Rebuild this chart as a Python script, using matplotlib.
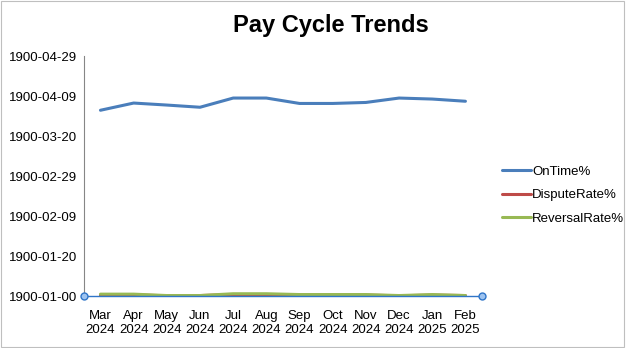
import datetime
import matplotlib
matplotlib.use("Agg")
import matplotlib.pyplot as plt
from matplotlib.ticker import FuncFormatter

plt.rcParams['font.family'] = ['Liberation Sans', 'DejaVu Sans']

months = ['Mar\n2024', 'Apr\n2024', 'May\n2024', 'Jun\n2024', 'Jul\n2024', 'Aug\n2024',
          'Sep\n2024', 'Oct\n2024', 'Nov\n2024', 'Dec\n2024', 'Jan\n2025', 'Feb\n2025']
on_time = [92.9, 96.5, 95.5, 94.4, 99.0, 99.0, 96.3, 96.3, 96.8, 99.0, 98.5, 97.4]
dispute_rate = [0.5, 0.6, 0.2, 0.3, 0.8, 0.8, 0.5, 0.5, 0.5, 0.2, 0.5, 0.3]
reversal_rate = [1.0, 1.0, 0.3, 0.3, 1.2, 1.2, 0.8, 0.8, 0.8, 0.3, 0.8, 0.3]

series = [('OnTime%', on_time, '#4A7EBB'),
          ('DisputeRate%', dispute_rate, '#BE4B48'),
          ('ReversalRate%', reversal_rate, '#98B954')]


def excel_date(v, pos=None):
    # Excel serial numbers (with the 1900 leap-year quirk)
    n = int(round(v))
    if n == 0:
        return '1900-01-00'
    if n == 60:
        return '1900-02-29'
    if n > 60:
        n -= 1
    d = datetime.date(1899, 12, 31) + datetime.timedelta(days=n)
    return d.strftime('%Y-%m-%d')


fig = plt.figure(figsize=(6.26, 3.48), dpi=100)
fig.patches.append(plt.Rectangle((0.002, 0.003), 0.995, 0.994, transform=fig.transFigure,
                                 fill=False, edgecolor='#BFBFBF', linewidth=0.8))
ax = fig.add_axes([0.134, 0.149, 0.636, 0.690])

x = list(range(len(months)))
for name, vals, color in series:
    ax.plot(x, vals, color=color, linewidth=2.2, label=name, solid_capstyle='round')

ax.set_xlim(-0.5, len(months) - 0.5)
ax.set_ylim(0, 120)
ax.set_yticks(range(0, 121, 20))
ax.yaxis.set_major_formatter(FuncFormatter(excel_date))
ax.set_xticks(x)
ax.set_xticklabels(months)
ax.tick_params(axis='both', length=0, labelsize=9.5, colors='black')
ax.tick_params(axis='x', pad=10)
ax.tick_params(axis='y', pad=5)

for s in ['top', 'right', 'bottom']:
    ax.spines[s].set_visible(False)
ax.spines['left'].set_color('#868686')
ax.spines['left'].set_linewidth(0.8)

# selected horizontal axis with handles
ax.plot([-0.5, len(months) - 0.5], [0, 0], color='#2F75C8', linewidth=1.0,
        marker='o', markersize=5, markerfacecolor='#9DC3F0', markeredgecolor='#2F75C8',
        clip_on=False, zorder=5)

fig.text(0.528, 0.927, 'Pay Cycle Trends', ha='center', va='center',
         fontsize=17, fontweight='bold')

ax.legend(loc='center left', bbox_to_anchor=(1.02, 0.42), frameon=False,
          fontsize=9.5, handlelength=2.2, handletextpad=0.1, labelspacing=0.85)

fig.savefig('out.png', dpi=100)
